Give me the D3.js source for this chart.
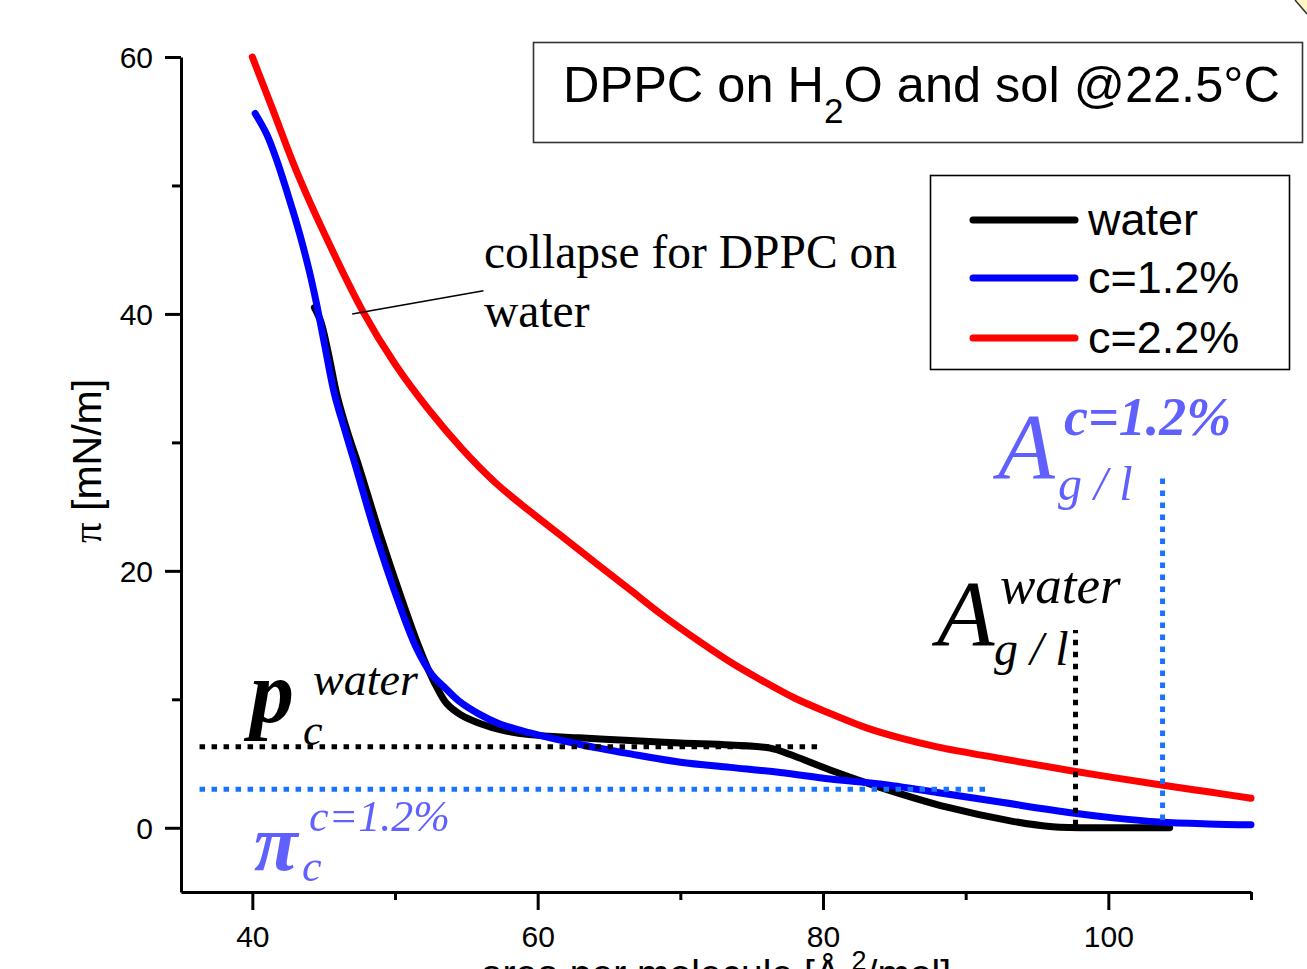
<!DOCTYPE html>
<html>
<head>
<meta charset="utf-8">
<script src="https://cdn.jsdelivr.net/npm/d3@7"></script>
<style>
  html, body { margin: 0; padding: 0; background: #fff; }
  svg { display: block; }
</style>
</head>
<body>
<svg id="chart" width="1307" height="969"></svg>
<script>
// ---- axis ticks ----
const xTicks = [40, 60, 80, 100];
const xMinorTicks = [50, 70, 90, 110];
const yTicks = [0, 20, 40, 60];
const yMinorTicks = [10, 30, 50];

// ---- isotherms: area per molecule [Å²/mol] vs surface pressure π [mN/m] ----
const waterArea = [44.35, 44.8, 45.3, 45.95, 46.7, 47.45, 48.9, 50.5, 51.6, 52.3, 52.9, 53.6, 54.6, 56.0, 57.5,
                   59.4, 62.9, 66.5, 70.0, 73.5, 76.3, 77.7, 80.5, 84.0, 88.7, 93.3, 96.1, 100.0, 104.3];
const waterPi   = [40.5, 39.4, 37.1, 33.6, 30.7, 28.2, 23.0, 17.7, 14.3, 12.4, 11.0, 9.7, 8.8, 8.1, 7.6,
                   7.25, 7.0, 6.8, 6.6, 6.45, 6.2, 5.7, 4.5, 3.15, 1.6, 0.5, 0.08, 0.0, 0.0];

const c12Area = [40.2, 41.0, 41.7, 42.6, 43.3, 44.0, 44.5, 45.1, 45.75, 46.5, 47.2, 48.6, 50.2, 51.5, 52.6,
                 53.5, 54.5, 55.9, 57.3, 59.4, 62.9, 66.5, 70.0, 73.5, 77.0, 80.5, 84.0, 88.0, 92.4, 97.5,
                 100.5, 103.6, 107.0, 110.0];
const c12Pi   = [55.6, 54.0, 52.0, 48.9, 46.3, 43.3, 40.8, 37.4, 33.8, 30.9, 28.3, 23.0, 17.7, 14.0, 11.9,
                 10.9, 9.85, 8.85, 8.1, 7.4, 6.5, 5.75, 5.1, 4.7, 4.3, 3.8, 3.4, 2.75, 2.0, 1.15,
                 0.75, 0.45, 0.3, 0.23];

const c22Area = [40.0, 41.4, 43.1, 45.2, 47.7, 50.0, 52.4, 54.7, 57.1, 59.5, 61.8, 64.2, 66.5, 68.8, 71.2,
                 73.5, 75.5, 78.0, 80.5, 83.0, 85.4, 88.0, 92.4, 97.6, 103.6, 107.0, 110.0];
const c22Pi   = [60.0, 56.0, 51.1, 45.9, 40.3, 36.1, 32.5, 29.5, 26.8, 24.6, 22.6, 20.5, 18.5, 16.5, 14.6,
                 12.9, 11.6, 10.1, 8.9, 7.8, 7.0, 6.3, 5.4, 4.4, 3.35, 2.8, 2.3];

const seriesNames = ["water", "c=1.2%", "c=2.2%"];
const seriesColors = ["#000000", "#0000ff", "#ff0000"];

// ---- characteristic values marked with dotted guides ----
const piCollapseWater = 6.3;      // plateau pressure, water
const piCollapseC12 = 3.0;        // plateau pressure, c=1.2%
const piGuideWaterSpan = [36.3, 79.6];
const piGuideC12Span = [36.3, 91.8];
const aglWater = 97.7;            // gas/liquid onset area, water
const aglC12 = 103.8;             // gas/liquid onset area, c=1.2%
const aglWaterSpan = [0.2, 15.4];
const aglC12Span = [0.6, 27.6];

const zip = (a, b) => a.map((v, i) => [v, b[i]]);
const series = [
  { name: seriesNames[2], color: seriesColors[2], pts: zip(c22Area, c22Pi) },
  { name: seriesNames[0], color: seriesColors[0], pts: zip(waterArea, waterPi) },
  { name: seriesNames[1], color: seriesColors[1], pts: zip(c12Area, c12Pi) }
];

const svg = d3.select("#chart");
const SANS = "'Liberation Sans', Arial, sans-serif";
const SERIF = "'Liberation Serif', 'Times New Roman', serif";

const x = d3.scaleLinear().domain([35, 110]).range([181, 1251]);
const y = d3.scaleLinear().domain([-5, 60]).range([892, 57]);

// ---- axes ----
function styleAxis(g) {
  g.select(".domain").attr("stroke", "#000").attr("stroke-width", 3);
  g.selectAll(".tick line").attr("stroke", "#000").attr("stroke-width", 3);
  g.selectAll(".tick text").attr("fill", "#000").attr("font-family", SANS).attr("font-size", 30);
}

const gx = svg.append("g").attr("transform", `translate(0,${y(-5)})`)
  .call(d3.axisBottom(x).tickValues(xTicks).tickSize(18).tickSizeOuter(0).tickFormat(d3.format("d")));
styleAxis(gx);
gx.selectAll(".tick text").attr("dy", null).attr("y", 55);

svg.append("g").attr("transform", `translate(0,${y(-5)})`)
  .call(d3.axisBottom(x).tickValues(xMinorTicks).tickSize(8).tickSizeOuter(0).tickFormat(""))
  .call(g => { g.select(".domain").remove(); g.selectAll(".tick line").attr("stroke", "#000").attr("stroke-width", 3); });

const gy = svg.append("g").attr("transform", `translate(${x(35)},0)`)
  .call(d3.axisLeft(y).tickValues(yTicks).tickSize(16).tickPadding(12).tickSizeOuter(0).tickFormat(d3.format("d")));
styleAxis(gy);
gy.selectAll(".tick text").attr("dy", "0.36em");

svg.append("g").attr("transform", `translate(${x(35)},0)`)
  .call(d3.axisLeft(y).tickValues(yMinorTicks).tickSize(9).tickSizeOuter(0).tickFormat(""))
  .call(g => { g.select(".domain").remove(); g.selectAll(".tick line").attr("stroke", "#000").attr("stroke-width", 3); });

// axis titles
svg.append("text")
  .attr("transform", "translate(101,461) rotate(-90)")
  .attr("text-anchor", "middle")
  .attr("font-family", SANS).attr("font-size", 41).attr("fill", "#000")
  .call(t => {
    t.append("tspan").attr("font-family", SERIF).text("π");
    t.append("tspan").text(" [mN/m]");
  });

svg.append("text")
  .attr("x", 716).attr("y", 987)
  .attr("text-anchor", "middle")
  .attr("font-family", SANS).attr("font-size", 39).attr("fill", "#000")
  .call(t => {
    t.append("tspan").text("area per molecule [Å ");
    t.append("tspan").attr("font-size", 27).attr("dy", -17).text("2");
    t.append("tspan").attr("dy", 17).text("/mol]");
  });

// ---- isotherm curves ----
const line = d3.line().x(d => x(d[0])).y(d => y(d[1])).curve(d3.curveCatmullRom.alpha(0.5));
svg.append("g").selectAll("path").data(series).join("path")
  .attr("d", d => line(d.pts))
  .attr("fill", "none")
  .attr("stroke", d => d.color)
  .attr("stroke-width", 7)
  .attr("stroke-linecap", "round")
  .attr("stroke-linejoin", "round");

// ---- dotted guides ----
const guide = d3.line().x(d => x(d[0])).y(d => y(d[1]));
const guides = [
  { pts: [[piGuideWaterSpan[0], piCollapseWater], [piGuideWaterSpan[1], piCollapseWater]], color: "#000" },
  { pts: [[piGuideC12Span[0], piCollapseC12], [piGuideC12Span[1], piCollapseC12]], color: "#1a73ff" },
  { pts: [[aglWater, aglWaterSpan[0]], [aglWater, aglWaterSpan[1]]], color: "#000" },
  { pts: [[aglC12, aglC12Span[0]], [aglC12, aglC12Span[1]]], color: "#1a73ff" }
];
svg.append("g").selectAll("path").data(guides).join("path")
  .attr("d", d => guide(d.pts))
  .attr("fill", "none")
  .attr("stroke", d => d.color)
  .attr("stroke-width", 5)
  .attr("stroke-dasharray", "5.5 6.5");

// ---- collapse annotation ----
svg.append("line")
  .attr("x1", x(47.0)).attr("y1", y(40.0))
  .attr("x2", x(56.2)).attr("y2", y(41.8))
  .attr("stroke", "#000").attr("stroke-width", 1.6);
const note = svg.append("text").attr("font-family", SERIF).attr("font-size", 47.5).attr("fill", "#000");
note.append("tspan").attr("x", 484).attr("y", 268).text("collapse for DPPC on");
note.append("tspan").attr("x", 484).attr("y", 327).text("water");

// ---- title box ----
svg.append("rect").attr("x", 533.5).attr("y", 42.5).attr("width", 769).attr("height", 100)
  .attr("fill", "#fff").attr("stroke", "#333").attr("stroke-width", 1.6);
svg.append("text").attr("x", 563).attr("y", 102)
  .attr("font-family", SANS).attr("font-size", 50.5).attr("fill", "#000")
  .call(t => {
    t.append("tspan").text("DPPC on H");
    t.append("tspan").attr("font-size", 35).attr("dy", 21).text("2");
    t.append("tspan").attr("dy", -21).text("O and sol @22.5°C");
  });

// ---- legend ----
svg.append("rect").attr("x", 930.5).attr("y", 175.5).attr("width", 359).attr("height", 194)
  .attr("fill", "#fff").attr("stroke", "#000").attr("stroke-width", 1.6);
const legendOrder = [0, 1, 2];
const legendY = [220, 278, 338];
const lg = svg.append("g").selectAll("g").data(legendOrder).join("g");
lg.append("line")
  .attr("x1", 973).attr("x2", 1075)
  .attr("y1", (d, i) => legendY[i]).attr("y2", (d, i) => legendY[i])
  .attr("stroke", d => seriesColors[d]).attr("stroke-width", 7).attr("stroke-linecap", "round");
lg.append("text")
  .attr("x", 1088).attr("y", (d, i) => legendY[i] + 15)
  .attr("font-family", SANS).attr("font-size", 45).attr("fill", "#000")
  .text(d => seriesNames[d]);

// ---- symbol labels ----
const defs = svg.append("defs");
defs.append("filter").attr("id", "soft")
  .append("feGaussianBlur").attr("stdDeviation", 0.6);

// π_c for water (black)
svg.append("text").attr("x", 250).attr("y", 722)
  .attr("font-family", SERIF).attr("font-size", 88).attr("font-weight", "bold").attr("font-style", "italic")
  .attr("fill", "#000").text("p");
svg.append("text").attr("x", 313).attr("y", 695)
  .attr("font-family", SERIF).attr("font-size", 46).attr("font-style", "italic").attr("fill", "#000").text("water");
svg.append("text").attr("x", 303).attr("y", 745)
  .attr("font-family", SERIF).attr("font-size", 44).attr("font-style", "italic").attr("fill", "#000").text("c");

// π_c for c=1.2% (blue)
const blueLbl = svg.append("g").attr("fill", "#6060ff").attr("filter", "url(#soft)")
  .attr("font-family", SERIF).attr("font-style", "italic");
blueLbl.append("text").attr("x", 254).attr("y", 870).attr("font-size", 80).attr("font-weight", "bold").text("π");
blueLbl.append("text").attr("x", 309).attr("y", 831).attr("font-size", 44).text("c=1.2%");
blueLbl.append("text").attr("x", 302).attr("y", 881).attr("font-size", 44).text("c");

// A_g/l for c=1.2% (blue)
blueLbl.append("text").attr("x", 998).attr("y", 478).attr("font-size", 93).text("A");
blueLbl.append("text").attr("x", 1064).attr("y", 435).attr("font-size", 54).attr("font-weight", "bold").text("c=1.2%");
blueLbl.append("text").attr("x", 1058).attr("y", 500).attr("font-size", 48).text("g / l");

// A_g/l for water (black)
const blackLbl = svg.append("g").attr("fill", "#000").attr("font-family", SERIF).attr("font-style", "italic");
blackLbl.append("text").attr("x", 937).attr("y", 645).attr("font-size", 94).text("A");
blackLbl.append("text").attr("x", 1000).attr("y", 603).attr("font-size", 53).text("water");
blackLbl.append("text").attr("x", 994).attr("y", 665).attr("font-size", 48).text("g / l");

// page corner fold
svg.append("path").attr("d", "M1295,0 L1307,14 L1307,0 Z").attr("fill", "#fff6c4").attr("stroke", "none");
svg.append("path").attr("d", "M1295,0 L1307,14").attr("stroke", "#333").attr("stroke-width", 1.5);
</script>
</body>
</html>
